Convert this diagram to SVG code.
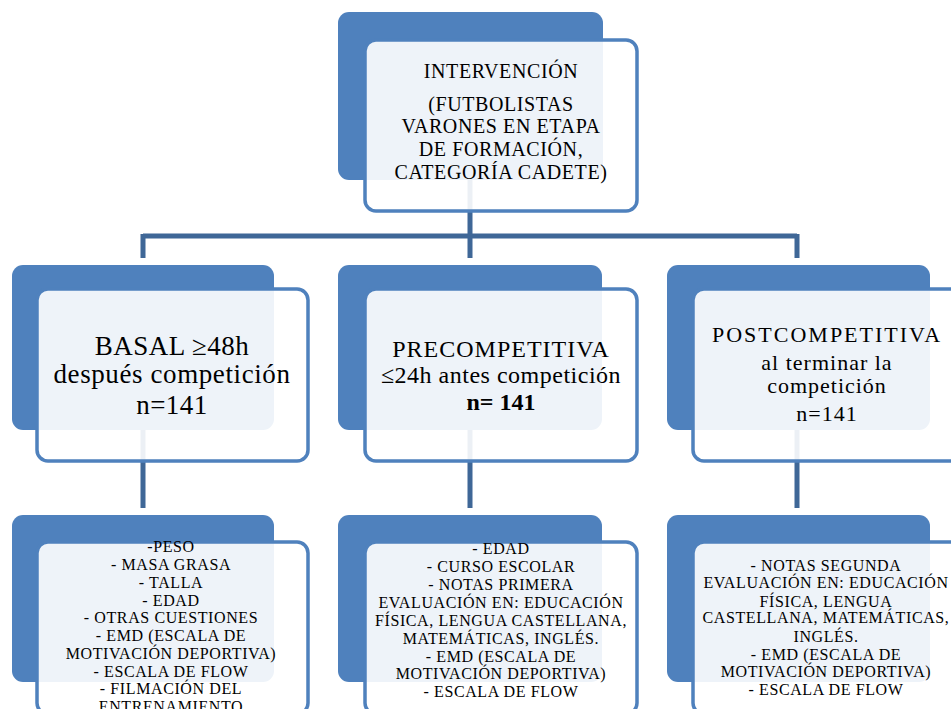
<svg xmlns="http://www.w3.org/2000/svg" width="951" height="709" viewBox="0 0 951 709">
  <style>
    .back { fill: #4f81bd; }
    .front { fill: #ffffff; fill-opacity: 0.9; stroke: #4f81bd; stroke-width: 3.5; }
    .conn { fill: none; stroke: #3f6797; stroke-width: 5; }
    text { font-family: "Liberation Serif", "Times New Roman", serif; fill: #000; text-anchor: middle; }
    .top { font-size: 20px; letter-spacing: 0.6px; }
    .list { font-size: 16px; letter-spacing: 0.6px; }
  </style>
  <rect width="951" height="709" fill="#ffffff"/>

  <!-- connectors -->
  <g id="connectors">
    <path class="conn" d="M470 180 V236 M143 236 H797 M143 234 V258 M470 236 V258 M797 234 V258"/>
    <path class="conn" d="M143 430 V508 M470 430 V508 M797 430 V508"/>
  </g>

  <!-- top node -->
  <g id="intervencion">
    <rect class="back" x="338" y="12" width="265" height="168" rx="11"/>
    <rect class="front" x="365" y="40" width="272" height="171" rx="11"/>
    <text class="top" x="501" y="78">INTERVENCIÓN</text>
    <text class="top" x="501" y="111">(FUTBOLISTAS</text>
    <text class="top" x="501" y="133">VARONES EN ETAPA</text>
    <text class="top" x="501" y="156">DE FORMACIÓN,</text>
    <text class="top" x="501" y="179">CATEGORÍA CADETE)</text>
  </g>

  <!-- measurement moments -->
  <g id="basal">
    <rect class="back" x="12" y="265" width="262" height="165" rx="11"/>
    <rect class="front" x="37" y="289" width="271" height="172" rx="11"/>
    <text x="172" y="355" font-size="27" letter-spacing="0.5">BASAL ≥48h</text>
    <text x="172" y="383" font-size="27" letter-spacing="0.6">después competición</text>
    <text x="172" y="414" font-size="27" letter-spacing="0.5">n=141</text>
  </g>
  <g id="precompetitiva">
    <rect class="back" x="338" y="265" width="264" height="165" rx="11"/>
    <rect class="front" x="365" y="289" width="272" height="172" rx="11"/>
    <text x="501" y="357" font-size="24" letter-spacing="1">PRECOMPETITIVA</text>
    <text x="501" y="383" font-size="24" letter-spacing="0.5">≤24h antes competición</text>
    <text x="501" y="410" font-size="24" font-weight="bold">n= 141</text>
  </g>
  <g id="postcompetitiva">
    <rect class="back" x="667" y="265" width="263" height="165" rx="11"/>
    <rect class="front" x="693" y="289" width="272" height="172" rx="11"/>
    <text x="827" y="342" font-size="22" letter-spacing="2">POSTCOMPETITIVA</text>
    <text x="827" y="370" font-size="22" letter-spacing="1">al terminar la</text>
    <text x="827" y="393" font-size="22" letter-spacing="1">competición</text>
    <text x="827" y="421" font-size="22" letter-spacing="1">n=141</text>
  </g>

  <!-- variables per moment -->
  <g id="variables-basal">
    <rect class="back" x="12" y="515" width="262" height="167" rx="11"/>
    <rect class="front" x="37" y="542" width="271" height="172" rx="11"/>
    <text class="list" x="171" y="552">-PESO</text>
    <text class="list" x="171" y="570">- MASA GRASA</text>
    <text class="list" x="171" y="588">- TALLA</text>
    <text class="list" x="171" y="606">- EDAD</text>
    <text class="list" x="171" y="623">- OTRAS CUESTIONES</text>
    <text class="list" x="171" y="641">- EMD (ESCALA DE</text>
    <text class="list" x="171" y="659">MOTIVACIÓN DEPORTIVA)</text>
    <text class="list" x="171" y="677">- ESCALA DE FLOW</text>
    <text class="list" x="171" y="694">- FILMACIÓN DEL</text>
    <text class="list" x="171" y="712">ENTRENAMIENTO</text>
  </g>
  <g id="variables-precompetitiva">
    <rect class="back" x="338" y="515" width="264" height="167" rx="11"/>
    <rect class="front" x="365" y="542" width="272" height="172" rx="11"/>
    <text class="list" x="501" y="554">- EDAD</text>
    <text class="list" x="501" y="572">- CURSO ESCOLAR</text>
    <text class="list" x="501" y="590">- NOTAS PRIMERA</text>
    <text class="list" x="501" y="608">EVALUACIÓN EN: EDUCACIÓN</text>
    <text class="list" x="501" y="626">FÍSICA, LENGUA CASTELLANA,</text>
    <text class="list" x="501" y="644">MATEMÁTICAS, INGLÉS.</text>
    <text class="list" x="501" y="662">- EMD (ESCALA DE</text>
    <text class="list" x="501" y="679">MOTIVACIÓN DEPORTIVA)</text>
    <text class="list" x="501" y="697">- ESCALA DE FLOW</text>
  </g>
  <g id="variables-postcompetitiva">
    <rect class="back" x="667" y="515" width="263" height="167" rx="11"/>
    <rect class="front" x="693" y="542" width="272" height="172" rx="11"/>
    <text class="list" x="826" y="571">- NOTAS SEGUNDA</text>
    <text class="list" x="826" y="588">EVALUACIÓN EN: EDUCACIÓN</text>
    <text class="list" x="826" y="607">FÍSICA, LENGUA</text>
    <text class="list" x="826" y="623">CASTELLANA, MATEMÁTICAS,</text>
    <text class="list" x="826" y="642">INGLÉS.</text>
    <text class="list" x="826" y="660">- EMD (ESCALA DE</text>
    <text class="list" x="826" y="677">MOTIVACIÓN DEPORTIVA)</text>
    <text class="list" x="826" y="695">- ESCALA DE FLOW</text>
  </g>
</svg>
